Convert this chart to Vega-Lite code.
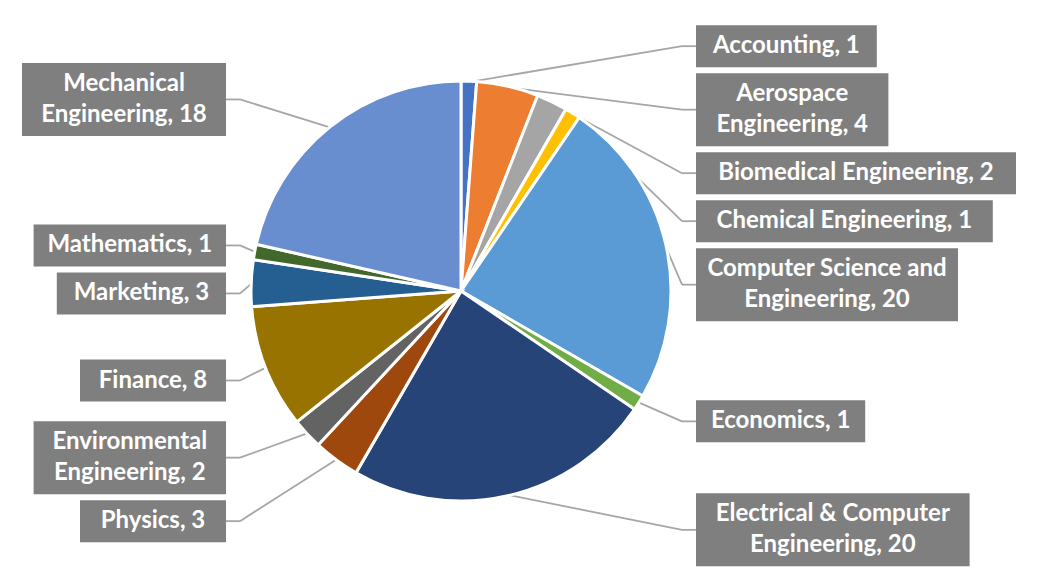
{
  "$schema": "https://vega.github.io/schema/vega-lite/v6.json",
  "width": 1042,
  "height": 571,
  "autosize": {"type": "none"},
  "padding": 0,
  "background": "white",
  "config": {"view": {"stroke": null}},
  "data": {
    "values": [
      {"idx": 1, "major": "Accounting", "count": 1, "label": "Accounting, 1"},
      {"idx": 2, "major": "Aerospace Engineering", "count": 4, "label": "Aerospace\nEngineering, 4"},
      {"idx": 3, "major": "Biomedical Engineering", "count": 2, "label": "Biomedical Engineering, 2"},
      {"idx": 4, "major": "Chemical Engineering", "count": 1, "label": "Chemical Engineering, 1"},
      {"idx": 5, "major": "Computer Science and Engineering", "count": 20, "label": "Computer Science and\nEngineering, 20"},
      {"idx": 6, "major": "Economics", "count": 1, "label": "Economics, 1"},
      {"idx": 7, "major": "Electrical & Computer Engineering", "count": 20, "label": "Electrical & Computer\nEngineering, 20"},
      {"idx": 8, "major": "Physics", "count": 3, "label": "Physics, 3"},
      {"idx": 9, "major": "Environmental Engineering", "count": 2, "label": "Environmental\nEngineering, 2"},
      {"idx": 10, "major": "Finance", "count": 8, "label": "Finance, 8"},
      {"idx": 11, "major": "Marketing", "count": 3, "label": "Marketing, 3"},
      {"idx": 12, "major": "Mathematics", "count": 1, "label": "Mathematics, 1"},
      {"idx": 13, "major": "Mechanical Engineering", "count": 18, "label": "Mechanical\nEngineering, 18"}
    ]
  },
  "transform": [
    {"joinaggregate": [{"op": "sum", "field": "count", "as": "total"}]},
    {"window": [{"op": "sum", "field": "count", "as": "cum"}], "sort": [{"field": "idx"}], "frame": [null, 0]},
    {"calculate": "(datum.cum - datum.count / 2) / datum.total * 2 * PI", "as": "a"},
    {"calculate": "datum.a < PI ? 1 : -1", "as": "side"},
    {"calculate": "split(datum.label, '\\n')", "as": "lines"},
    {"calculate": "length(datum.lines)", "as": "nl"},
    {"calculate": "max(length(datum.lines[0]), datum.nl > 1 ? length(datum.lines[1]) : 0)", "as": "mlen"},
    {"calculate": "42 + (datum.nl - 1) * 31", "as": "h"},
    {"calculate": "datum.mlen * 11.6 + 30", "as": "w"},
    {"calculate": "datum.h + 6", "as": "hg"},
    {"calculate": "-245 * cos(datum.a)", "as": "s"},
    {"calculate": "datum.s - datum.h / 2", "as": "t"},
    {"window": [{"op": "sum", "field": "hg", "as": "cin"}], "groupby": ["side"], "sort": [{"field": "s"}], "frame": [null, 0]},
    {"calculate": "datum.cin - datum.hg", "as": "c"},
    {"calculate": "datum.t - datum.c", "as": "z"},
    {"window": [{"op": "max", "field": "z", "as": "zmax"}], "groupby": ["side"], "sort": [{"field": "s"}], "frame": [null, 0]},
    {"calculate": "datum.c + max(datum.zmax, -287)", "as": "tp"},
    {"calculate": "-(datum.tp + datum.h / 2)", "as": "yc"},
    {"calculate": "datum.yc + (datum.nl - 1) * 15.5", "as": "ty"},
    {"calculate": "-datum.tp", "as": "by1"},
    {"calculate": "-(datum.tp + datum.h)", "as": "by2"},
    {"calculate": "datum.side * 235", "as": "xe"},
    {"calculate": "datum.xe + datum.side * datum.w", "as": "xf"},
    {"calculate": "datum.xe + datum.side * datum.w / 2", "as": "tx"},
    {"calculate": "datum.xe - datum.side * 14", "as": "ex"},
    {"calculate": "209 * sin(datum.a)", "as": "px"},
    {"calculate": "209 * cos(datum.a)", "as": "py"}
  ],
  "layer": [
    {
      "mark": {"type": "rule", "stroke": "#A6A6A6", "strokeWidth": 1.8},
      "encoding": {
        "x": {"field": "px", "type": "quantitative", "scale": {"domain": [-461, 581]}, "axis": null},
        "y": {"field": "py", "type": "quantitative", "scale": {"domain": [-280, 291]}, "axis": null},
        "x2": {"field": "ex"},
        "y2": {"field": "yc"}
      }
    },
    {
      "mark": {"type": "rule", "stroke": "#A6A6A6", "strokeWidth": 1.8},
      "encoding": {
        "x": {"field": "ex", "type": "quantitative", "scale": {"domain": [-461, 581]}, "axis": null},
        "y": {"field": "yc", "type": "quantitative", "scale": {"domain": [-280, 291]}, "axis": null},
        "x2": {"field": "xe"},
        "y2": {"field": "yc"}
      }
    },
    {
      "mark": {"type": "arc", "outerRadius": 210, "stroke": "white", "strokeWidth": 3},
      "encoding": {
        "x": {"datum": 0, "type": "quantitative", "scale": {"domain": [-461, 581]}, "axis": null},
        "y": {"datum": 0, "type": "quantitative", "scale": {"domain": [-280, 291]}, "axis": null},
        "theta": {"field": "count", "type": "quantitative", "stack": true},
        "order": {"field": "idx", "type": "quantitative"},
        "color": {
          "field": "major",
          "type": "nominal",
          "legend": null,
          "scale": {
            "domain": ["Accounting", "Aerospace Engineering", "Biomedical Engineering", "Chemical Engineering", "Computer Science and Engineering", "Economics", "Electrical & Computer Engineering", "Physics", "Environmental Engineering", "Finance", "Marketing", "Mathematics", "Mechanical Engineering"],
            "range": ["#4472C4", "#ED7D31", "#A5A5A5", "#FFC000", "#5B9BD5", "#70AD47", "#264478", "#9E480E", "#636363", "#997300", "#255E91", "#43682B", "#698ED0"]
          }
        }
      }
    },
    {
      "mark": {"type": "rect", "fill": "#7F7F7F"},
      "encoding": {
        "x": {"field": "xe", "type": "quantitative", "scale": {"domain": [-461, 581]}, "axis": null},
        "x2": {"field": "xf"},
        "y": {"field": "by1", "type": "quantitative", "scale": {"domain": [-280, 291]}, "axis": null},
        "y2": {"field": "by2"}
      }
    },
    {
      "mark": {"type": "text", "font": "Lato", "fontWeight": "bold", "fontSize": 24, "lineHeight": 31, "fill": "white", "align": "center", "baseline": "middle", "lineBreak": "\n"},
      "encoding": {
        "x": {"field": "tx", "type": "quantitative", "scale": {"domain": [-461, 581]}, "axis": null},
        "y": {"field": "ty", "type": "quantitative", "scale": {"domain": [-280, 291]}, "axis": null},
        "text": {"field": "label"}
      }
    }
  ]
}
